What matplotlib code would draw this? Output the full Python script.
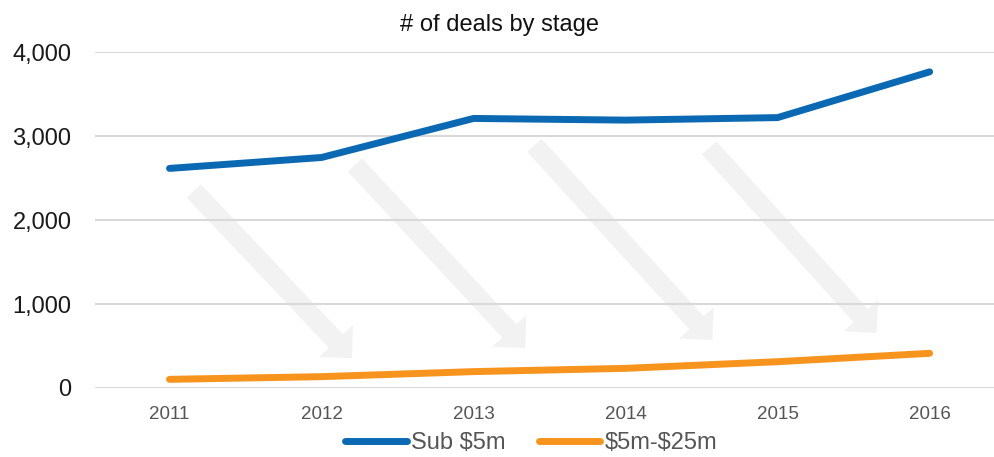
import matplotlib.pyplot as plt
from matplotlib.ticker import FuncFormatter

plt.rcParams['font.family'] = ['Liberation Sans', 'DejaVu Sans']

years = ['2011', '2012', '2013', '2014', '2015', '2016']
sub_5m = [2615, 2745, 3210, 3190, 3220, 3765]
mid_5_25m = [103, 135, 195, 234, 313, 413]

# decorative down-right arrows: (x_tail, y_tail, x_tip, y_tip) in category index / value
arrows = [
    (0.16, 2345, 1.20, 357),
    (1.22, 2655, 2.34, 476),
    (2.40, 2890, 3.57, 571),
    (3.55, 2860, 4.65, 655),
]

fig = plt.figure(figsize=(9.95, 4.57), dpi=100)
ax = fig.add_axes([0.0955, 0.151, 0.9045, 0.735])

x = range(len(years))

for xt, yt, xh, yh in arrows:
    ax.annotate('', xy=(xh, yh), xytext=(xt, yt),
                arrowprops=dict(arrowstyle='simple,head_length=1.2,head_width=2.4,tail_width=1.0',
                                mutation_scale=14, fc='#f2f2f2', ec='none',
                                shrinkA=0, shrinkB=0), zorder=0.5)

ax.plot(x, sub_5m, color='#0b69b3', lw=5, label='Sub \\$5m', solid_capstyle='round', zorder=3)
ax.plot(x, mid_5_25m, color='#f7941d', lw=5, label='\\$5m-\\$25m', solid_capstyle='round', zorder=3)

ax.set_xlim(-0.49, 5.43)
ax.set_ylim(0, 4000)
ax.set_yticks([0, 1000, 2000, 3000, 4000])
ax.yaxis.set_major_formatter(FuncFormatter(lambda v, p: f'{int(v):,}'))
ax.set_xticks(list(x))
ax.set_xticklabels(years)
ax.grid(axis='y', color='#d9d9d9', lw=1.5, zorder=1)
for s in ax.spines.values():
    s.set_visible(False)
ax.tick_params(axis='both', length=0)
ax.tick_params(axis='y', labelsize=17, labelcolor='#1a1a1a', pad=17)
ax.tick_params(axis='x', labelsize=13.5, labelcolor='#555555', pad=13)

fig.text(0.502, 0.945, '# of deals by stage', ha='center', va='center', fontsize=17, color='#111111')

fig.legend(loc='center', bbox_to_anchor=(0.534, 0.031), ncol=2, frameon=False,
           fontsize=17, handlelength=2.6, handletextpad=0.2, columnspacing=1.4,
           labelcolor='#555555')

fig.savefig('out.png', dpi=100)
